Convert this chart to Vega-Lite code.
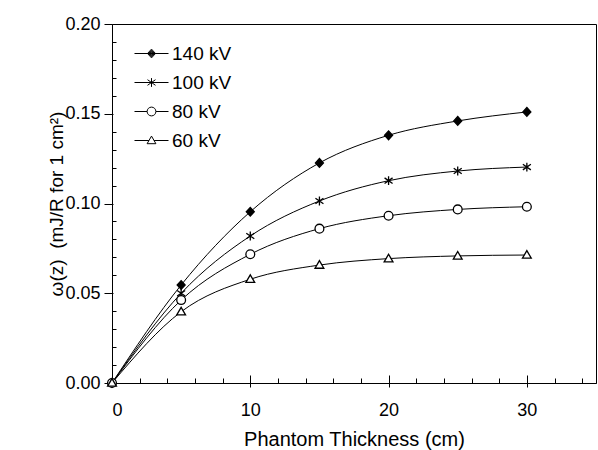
{
  "$schema": "https://vega.github.io/schema/vega-lite/v6.json",
  "width": 484,
  "height": 359,
  "autosize": "none",
  "padding": {"left": 112, "top": 24, "right": 2, "bottom": 67},
  "background": "white",
  "config": {
    "font": "Liberation Sans",
    "view": {"stroke": "black", "strokeWidth": 1},
    "axis": {"grid": false, "domainColor": "black", "tickColor": "black", "labelColor": "black", "titleColor": "black", "labelFont": "Liberation Sans", "titleFont": "Liberation Sans", "titleFontWeight": "normal"}
  },
  "data": {
    "values": [
      {"series": "140 kV", "thickness": 0, "omega": 0},
      {"series": "140 kV", "thickness": 5, "omega": 0.0546},
      {"series": "140 kV", "thickness": 10, "omega": 0.0954},
      {"series": "140 kV", "thickness": 15, "omega": 0.1226},
      {"series": "140 kV", "thickness": 20, "omega": 0.1380},
      {"series": "140 kV", "thickness": 25, "omega": 0.1460},
      {"series": "140 kV", "thickness": 30, "omega": 0.1510},
      {"series": "100 kV", "thickness": 0, "omega": 0},
      {"series": "100 kV", "thickness": 5, "omega": 0.0500},
      {"series": "100 kV", "thickness": 10, "omega": 0.0819},
      {"series": "100 kV", "thickness": 15, "omega": 0.1014},
      {"series": "100 kV", "thickness": 20, "omega": 0.1127},
      {"series": "100 kV", "thickness": 25, "omega": 0.1181},
      {"series": "100 kV", "thickness": 30, "omega": 0.1203},
      {"series": "80 kV", "thickness": 0, "omega": 0},
      {"series": "80 kV", "thickness": 5, "omega": 0.0462},
      {"series": "80 kV", "thickness": 10, "omega": 0.0717},
      {"series": "80 kV", "thickness": 15, "omega": 0.0860},
      {"series": "80 kV", "thickness": 20, "omega": 0.0932},
      {"series": "80 kV", "thickness": 25, "omega": 0.0967},
      {"series": "80 kV", "thickness": 30, "omega": 0.0982},
      {"series": "60 kV", "thickness": 0, "omega": 0},
      {"series": "60 kV", "thickness": 5, "omega": 0.0397},
      {"series": "60 kV", "thickness": 10, "omega": 0.0578},
      {"series": "60 kV", "thickness": 15, "omega": 0.0657},
      {"series": "60 kV", "thickness": 20, "omega": 0.0693},
      {"series": "60 kV", "thickness": 25, "omega": 0.0708},
      {"series": "60 kV", "thickness": 30, "omega": 0.0713}
    ]
  },
  "resolve": {"axis": {"x": "independent", "y": "independent"}, "scale": {"shape": "independent"}},
  "layer": [
    {
      "mark": {"type": "line", "interpolate": "monotone", "stroke": "black", "strokeWidth": 1},
      "encoding": {
        "x": {"field": "thickness", "type": "quantitative", "scale": {"domain": [0, 35], "nice": false},
          "axis": {"orient": "bottom", "values": [0, 10, 20, 30], "tickSize": 4, "labelFontSize": 18, "labelPadding": 14, "title": "Phantom Thickness (cm)", "titleFontSize": 20, "titlePadding": 10}},
        "y": {"field": "omega", "type": "quantitative", "scale": {"domain": [0, 0.2], "nice": false},
          "axis": {"orient": "left", "values": [0, 0.05, 0.1, 0.15, 0.2], "format": ".2f", "tickSize": 8, "labelFontSize": 18, "labelPadding": 4, "title": "ω(z)\u00a0\u00a0(mJ/R for 1 cm²)", "titleFontSize": 19, "titlePadding": -2}},
        "detail": {"field": "series"}
      }
    },
    {
      "mark": {"type": "line", "interpolate": "monotone", "opacity": 0},
      "encoding": {
        "x": {"field": "thickness", "type": "quantitative",
          "axis": {"orient": "top", "offset": -359, "values": [0, 10, 20, 30], "tickSize": 8, "labels": false, "domain": false, "title": null}},
        "y": {"field": "omega", "type": "quantitative",
          "axis": {"orient": "right", "offset": -484, "values": [0.05, 0.1, 0.15], "tickSize": 1, "labels": false, "domain": false, "title": null}},
        "detail": {"field": "series"}
      }
    },
    {
      "mark": {"type": "point", "filled": false, "stroke": "black", "strokeWidth": 1.3, "size": 64, "opacity": 1},
      "encoding": {
        "x": {"field": "thickness", "type": "quantitative",
          "axis": {"orient": "top", "offset": -359, "values": [2, 4, 6, 8, 12, 14, 16, 18, 22, 24, 26, 28, 32, 34], "tickSize": 5, "labels": false, "domain": false, "title": null}},
        "y": {"field": "omega", "type": "quantitative",
          "axis": {"orient": "right", "offset": -484, "values": [0.01, 0.02, 0.03, 0.04, 0.06, 0.07, 0.08, 0.09, 0.11, 0.12, 0.13, 0.14, 0.16, 0.17, 0.18, 0.19], "tickSize": 4, "labels": false, "domain": false, "title": null}},
        "fill": {"field": "series", "type": "nominal", "scale": {"domain": ["140 kV", "100 kV", "80 kV", "60 kV"], "range": ["black", "white", "white", "white"]}, "legend": null},
        "shape": {"field": "series", "type": "nominal",
          "scale": {"domain": ["140 kV", "100 kV", "80 kV", "60 kV"],
            "range": ["M0,-1.1L1,0L0,1.1L-1,0Z", "M-1,-0.7L1,0.7M-1,0.7L1,-0.7M0,-1.1V1.1", "M1.1,0A1.1,1.1 0 1,1 -1.1,0A1.1,1.1 0 1,1 1.1,0Z", "M0,-1.1L1.1,0.8L-1.1,0.8Z"]},
          "legend": null
        }
      }
    },
    {
      "transform": [{"filter": "datum.thickness < 0"}],
      "mark": {"type": "point", "filled": false, "stroke": "black", "strokeWidth": 1, "size": 64, "opacity": 1},
      "encoding": {
        "x": {"field": "thickness", "type": "quantitative", "axis": null},
        "y": {"field": "omega", "type": "quantitative", "axis": null},
        "shape": {"field": "series", "type": "nominal",
          "scale": {"domain": ["140 kV", "100 kV", "80 kV", "60 kV"],
            "range": [
              "M-4.25,0H4.25M0,-1.1L1,0L0,1.1L-1,0ZM0,-0.82L0.75,0L0,0.82L-0.75,0ZM0,-0.55L0.5,0L0,0.55L-0.5,0ZM0,-0.27L0.25,0L0,0.27L-0.25,0Z",
              "M-4.25,0H4.25M-1,-0.7L1,0.7M-1,0.7L1,-0.7M0,-1.1V1.1",
              "M-4.25,0H-1.1M1.1,0H4.25M1.1,0A1.1,1.1 0 1,1 -1.1,0A1.1,1.1 0 1,1 1.1,0Z",
              "M-4.25,0H-0.64M0.64,0H4.25M0,-1.1L1.1,0.8L-1.1,0.8Z"
            ]},
          "legend": {"orient": "none", "legendX": 30, "legendY": 20, "title": null, "padding": 0, "symbolSize": 64, "symbolStrokeWidth": 1, "symbolStrokeColor": "black", "symbolOpacity": 1, "labelFontSize": 19, "labelFont": "Liberation Sans", "labelColor": "black", "labelOffset": 11, "rowPadding": 9}
        }
      }
    }
  ]
}
